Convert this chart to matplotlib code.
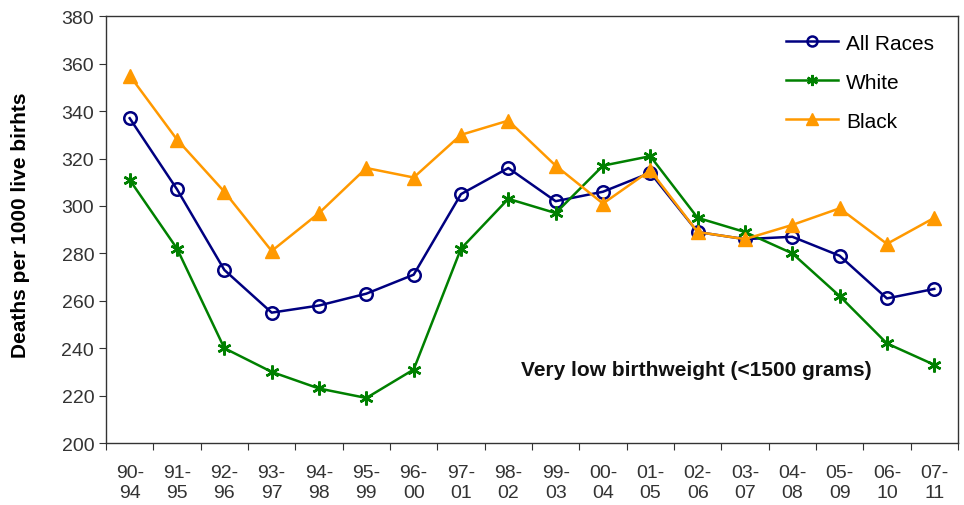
import numpy as np
import matplotlib
matplotlib.use("Agg")
from matplotlib import pyplot as plt

plt.rcParams['font.family'] = ['Liberation Sans', 'DejaVu Sans']

# data
periods = ['90-\n94', '91-\n95', '92-\n96', '93-\n97', '94-\n98', '95-\n99',
           '96-\n00', '97-\n01', '98-\n02', '99-\n03', '00-\n04', '01-\n05',
           '02-\n06', '03-\n07', '04-\n08', '05-\n09', '06-\n10', '07-\n11']
all_races = [337, 307, 273, 255, 258, 263, 271, 305, 316, 302, 306, 314,
             289, 286, 287, 279, 261, 265]
white = [311, 282, 240, 230, 223, 219, 231, 282, 303, 297, 317, 321,
         295, 289, 280, 262, 242, 233]
black = [355, 328, 306, 281, 297, 316, 312, 330, 336, 317, 301, 315,
         289, 286, 292, 299, 284, 295]

fig = plt.figure(figsize=(9.64, 5.06), dpi=100)
ax = fig.add_axes([0.110, 0.1225, 0.8837, 0.8433])

x = np.arange(len(periods))
ax.plot(x, all_races, color='#000080', lw=1.8, marker='o', ms=9,
        mfc='none', mec='#000080', mew=1.8, label='All Races')
ax.plot(x, white, color='#008000', lw=1.8, marker=(6, 2, 0), ms=10,
        mec='#008000', mew=1.8, label='White')
ax.plot(x, black, color='#FF9900', lw=1.8, marker='^', ms=10,
        mfc='#FF9900', mec='#FF9900', label='Black')

ax.set_xlim(-0.5, len(periods) - 0.5)
ax.set_ylim(200, 380)
ax.set_yticks(np.arange(200, 381, 20))
ax.tick_params(axis='y', labelsize=14, length=5, direction='out', colors='#333333')

# category labels centered, tick marks between categories
ax.set_xticks(np.arange(-0.5, len(periods) + 0.5, 1))
ax.set_xticklabels([])
ax.tick_params(axis='x', which='major', length=5, direction='out', colors='#333333')
ax.set_xticks(x, minor=True)
ax.set_xticklabels(periods, minor=True, fontsize=14, linespacing=1.25)
ax.tick_params(axis='x', which='minor', length=0, pad=15, labelcolor='#333333')

for s in ax.spines.values():
    s.set_color('#333333')
    s.set_linewidth(1.0)

ax.set_ylabel('Deaths per 1000 live birhts', fontsize=15, fontweight='bold')
ax.yaxis.set_label_coords(-0.089, 0.513)

ax.text(0.899, 0.173, 'Very low birthweight (<1500 grams)', transform=ax.transAxes,
        ha='right', va='center', fontsize=15, fontweight='bold', color='#111111')

ax.legend(loc='upper right', frameon=False, fontsize=15, handlelength=2.5,
          handletextpad=0.4, labelspacing=0.96, markerscale=0.8,
          bbox_to_anchor=(0.982, 0.979), borderaxespad=0)

fig.savefig('out.png', dpi=100)
